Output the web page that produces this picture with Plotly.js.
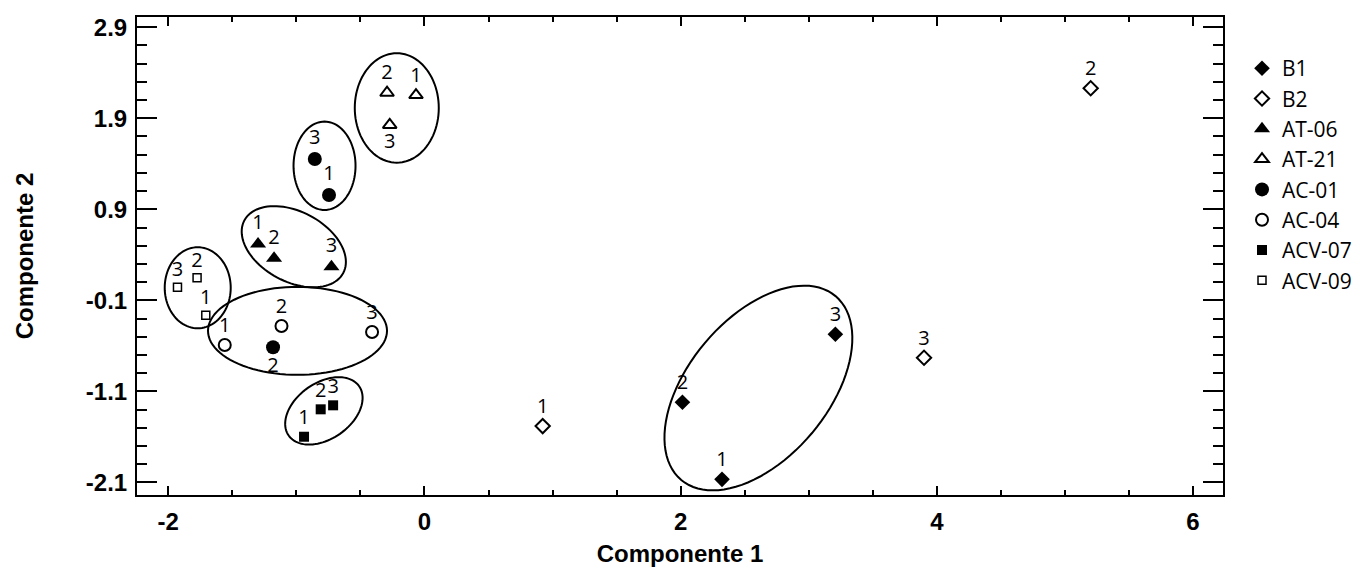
<!DOCTYPE html>
<html><head><meta charset="utf-8">
<script src="https://cdn.plot.ly/plotly-3.0.1.min.js"></script>
<style>html,body{margin:0;padding:0;background:#fff}#chart{width:1360px;height:569px}</style>
</head><body><div id="chart"></div>
<script>
// ---------- data ----------
const seriesNames = ['B1', 'B2', 'AT-06', 'AT-21', 'AC-01', 'AC-04', 'ACV-07', 'ACV-09'];
const pointLabels = ['1', '2', '3'];
const b1X = [2.323, 2.014, 3.208];
const b1Y = [-2.066, -1.220, -0.473];
const b2X = [0.923, 5.201, 3.900];
const b2Y = [-1.481, 2.229, -0.730];
const at06X = [-1.299, -1.174, -0.726];
const at06Y = [0.519, 0.362, 0.269];
const at21X = [-0.066, -0.292, -0.271];
const at21Y = [2.155, 2.180, 1.826];
const ac01X = [-0.745, -1.182, -0.856];
const ac01Y = [1.057, -0.616, 1.452];
const ac04X = [-1.559, -1.116, -0.409];
const ac04Y = [-0.591, -0.382, -0.448];
const acv07X = [-0.940, -0.810, -0.713];
const acv07Y = [-1.598, -1.297, -1.253];
const acv09X = [-1.707, -1.775, -1.928];
const acv09Y = [-0.265, 0.148, 0.043];
const xTickVals = [-2, 0, 2, 4, 6];
const xTickLabels = ['-2', '0', '2', '4', '6'];
const yTickVals = [-2.1, -1.1, -0.1, 0.9, 1.9, 2.9];
const yTickLabels = ['-2.1', '-1.1', '-0.1', '0.9', '1.9', '2.9'];
const xTitle = 'Componente 1';
const yTitle = 'Componente 2';

// ---------- cluster rings (centre in data units, semi-axes in px, tilt in deg) ----------
const ringCx = [-0.216, -0.780, -1.020, -1.770, -0.991, -0.785, 2.607];
const ringCy = [2.013, 1.378, 0.489, 0.038, -0.435, -1.314, -1.063];
const ringA = [42, 31, 56, 33, 89.5, 43, 120];
const ringB = [54.7, 44.2, 35, 40.5, 44, 28, 70];
const ringTilt = [0, 0, 28, 0, 0, -35, -50];

// ---------- layout / style ----------
const W = 1360, H = 569;
const M = {l: 137, r: 137, t: 17, b: 74, autoexpand: false};
const xRange = [-2.244, 6.234];
const yRange = [-2.238, 3.012];
const sx = (W - M.l - M.r) / (xRange[1] - xRange[0]);
const sy = (H - M.t - M.b) / (yRange[1] - yRange[0]);

const xs = [b1X, b2X, at06X, at21X, ac01X, ac04X, acv07X, acv09X];
const ys = [b1Y, b2Y, at06Y, at21Y, ac01Y, ac04Y, acv07Y, acv09Y];
const styles = [
  {symbol: 'diamond', size: 12, color: '#000', lw: 0},
  {symbol: 'diamond-open', size: 11, color: '#000', lw: 2},
  {symbol: 'triangle-up', size: 14, color: '#000', lw: 0},
  {symbol: 'triangle-up-open', size: 12, color: '#000', lw: 2},
  {symbol: 'circle', size: 14, color: '#000', lw: 0},
  {symbol: 'circle-open', size: 12, color: '#000', lw: 2},
  {symbol: 'square', size: 10, color: '#000', lw: 0},
  {symbol: 'square-open', size: 8, color: '#000', lw: 1.5}
];
const textPos = [
  ['top center', 'top center', 'top center'],
  ['top center', 'top center', 'top center'],
  ['top center', 'top center', 'top center'],
  ['top center', 'top center', 'bottom center'],
  ['top center', 'bottom center', 'top center'],
  ['top center', 'top center', 'top center'],
  ['top center', 'top center', 'top center'],
  ['top center', 'top center', 'top center']
];
const labelFont = {family: 'Open Sans, Noto Sans, sans-serif', size: 20, color: '#000'};
const legendFont = {family: 'Open Sans, Noto Sans, sans-serif', size: 21, color: '#000'};
const axisFont = {family: 'Liberation Sans, Arial, sans-serif', size: 24, color: '#000', weight: 'bold'};

const traces = seriesNames.map((name, i) => ({
  type: 'scatter',
  mode: 'markers+text',
  name: name,
  legendgroup: name,
  x: xs[i],
  y: ys[i],
  text: pointLabels,
  textposition: textPos[i],
  textfont: labelFont,
  cliponaxis: false,
  marker: {
    symbol: styles[i].symbol,
    size: styles[i].size,
    color: styles[i].color,
    line: {color: '#000', width: styles[i].lw}
  },
  hoverinfo: 'x+y+name'
}));

function ringPath(k) {
  const th = ringTilt[k] * Math.PI / 180;
  const pts = [];
  for (let j = 0; j <= 96; j++) {
    const t = 2 * Math.PI * j / 96;
    const dx = ringA[k] * Math.cos(t) * Math.cos(th) - ringB[k] * Math.sin(t) * Math.sin(th);
    const dy = ringA[k] * Math.cos(t) * Math.sin(th) + ringB[k] * Math.sin(t) * Math.cos(th);
    pts.push((ringCx[k] + dx / sx).toFixed(4) + ',' + (ringCy[k] - dy / sy).toFixed(4));
  }
  return 'M' + pts.join('L') + 'Z';
}
const shapes = ringCx.map((_, k) => ({
  type: 'path', xref: 'x', yref: 'y', path: ringPath(k),
  line: {color: '#000', width: 2}, layer: 'below'
}));

const layout = {
  width: W, height: H,
  margin: M,
  paper_bgcolor: '#fff', plot_bgcolor: '#fff',
  showlegend: true,
  legend: {
    x: 1.0175, xanchor: 'left', y: 0.935, yanchor: 'top',
    font: legendFont, tracegroupgap: 0, bgcolor: 'rgba(0,0,0,0)',
    itemsizing: 'trace'
  },
  xaxis: {
    range: xRange, showgrid: false, zeroline: false,
    showline: true, linecolor: '#000', linewidth: 2, mirror: 'ticks',
    ticks: 'inside', ticklen: 9, tickwidth: 2, tickcolor: '#000',
    tickmode: 'array', tickvals: xTickVals, ticktext: xTickLabels,
    tickfont: axisFont, ticklabelstandoff: 4,
    minor: {tickmode: 'linear', tick0: -2, dtick: 0.5, ticks: 'inside', ticklen: 5, tickwidth: 2, tickcolor: '#000', showgrid: false},
    title: {text: xTitle, font: axisFont, standoff: 11}
  },
  yaxis: {
    range: yRange, showgrid: false, zeroline: false,
    showline: true, linecolor: '#000', linewidth: 2, mirror: 'ticks',
    ticks: 'inside', ticklen: 20, tickwidth: 2, tickcolor: '#000',
    tickmode: 'array', tickvals: yTickVals, ticktext: yTickLabels,
    tickfont: axisFont, ticklabelstandoff: 3,
    minor: {tickmode: 'linear', tick0: -2.1, dtick: 0.2, ticks: 'inside', ticklen: 10, tickwidth: 2, tickcolor: '#000', showgrid: false},
    title: {text: yTitle, font: axisFont, standoff: 45}
  },
  shapes: shapes
};

Plotly.newPlot('chart', traces, layout, {displayModeBar: false, staticPlot: true});
</script>
</body></html>
